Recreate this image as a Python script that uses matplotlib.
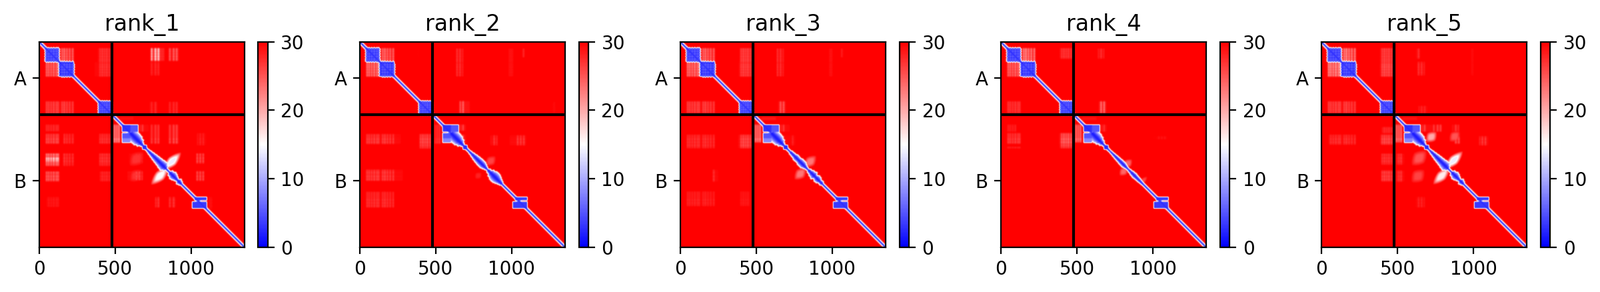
import numpy as np
import matplotlib
matplotlib.use("Agg")
import matplotlib.pyplot as plt

# ---- data (residue numbers, PAE values) ----
rank_names = ["rank_1", "rank_2", "rank_3", "rank_4", "rank_5"]
chain_names = ["A", "B"]
chain_lengths = [479, 873]
x_ticks = [0, 500, 1000]
cbar_ticks = [0, 10, 20, 30]

# confident domains shared by all ranks: row0,row1,col0,col1,value,lattice
domains = [
    (40, 130, 40, 130, 2.4, 1), (130, 228, 130, 228, 2.4, 1), (390, 479, 390, 479, 2.4, 1),
    (545, 593, 545, 600, 3, 0), (545, 593, 600, 652, 5, 0),
    (599, 635, 545, 600, 5, 0), (635, 664, 545, 600, 8, 0),
    (678, 708, 678, 708, 3, 0),
    (1020, 1045, 1022, 1105, 3.5, 0), (1051, 1097, 1007, 1105, 3.5, 0),
]
# residue columns/rows along which the pale areas are striped
stripes = [48, 62, 78, 95, 112, 124, 150, 165, 182, 200, 220, 400, 415, 430, 445, 462,
           495, 510, 525, 640, 660, 680, 740, 765, 785, 860, 885, 905, 1040, 1060, 1080]

# half-width of the diagonal band, starting at each position along the diagonal
diag_pos = [0, 535, 600, 620, 640, 655, 670, 680, 715, 725, 740, 755, 770, 785, 800, 815, 825, 835,
            845, 860, 875, 885, 895, 905, 915, 925, 935]
diag_r1 = [12, 12, 50, 55, 52, 40, 22, 12, 15, 20, 25, 30, 34, 38, 44, 48, 32, 12, 12, 30, 40, 35, 25, 17, 30, 22, 12]
diag_r2 = [12, 12, 50, 55, 52, 40, 22, 12, 12, 16, 22, 28, 32, 35, 35, 28, 19, 12, 22, 38, 48, 50, 48, 40, 30, 22, 12]
diag_r3 = [12, 12, 50, 55, 52, 40, 22, 12, 12, 19, 22, 30, 28, 35, 35, 25, 16, 12, 22, 32, 40, 25, 35, 32, 20, 22, 12]
diag_r4 = [12, 12, 50, 52, 44, 30, 16, 12, 11, 13, 16, 19, 21, 24, 25, 20, 14, 12, 16, 22, 25, 22, 20, 19, 16, 14, 12]
diag_r5 = [12, 12, 50, 55, 52, 40, 22, 12, 15, 20, 25, 30, 34, 38, 44, 48, 32, 12, 12, 30, 40, 35, 25, 17, 30, 22, 12]

# pale striped areas: row0,row1,col0,col1,value
pale_r1 = [
    (130, 228, 40, 130, 22), (40, 130, 130, 228, 22), (40, 130, 385, 479, 26), (130, 228, 365, 479, 26),
    (390, 479, 40, 228, 25), (40, 125, 737, 825, 15), (40, 125, 850, 920, 23), (130, 220, 730, 790, 27),
    (395, 479, 725, 780, 27), (395, 479, 850, 915, 27),
    (545, 589, 40, 130, 26), (604, 670, 40, 130, 24), (604, 670, 160, 230, 26), (604, 670, 395, 479, 26),
    (735, 816, 40, 135, 20), (762, 782, 42, 130, 13), (735, 816, 155, 230, 26), (735, 816, 395, 479, 26),
    (853, 918, 40, 135, 23), (853, 918, 400, 470, 27), (1020, 1087, 50, 130, 28),
    (493, 515, 532, 620, 24), (545, 662, 488, 532, 19), (545, 590, 660, 720, 24), (545, 670, 730, 790, 25),
    (545, 670, 850, 920, 24), (735, 800, 590, 680, 26), (850, 910, 580, 680, 24),
    (1020, 1090, 765, 790, 26), (1020, 1090, 850, 900, 26), (600, 680, 1040, 1100, 27),
    (735, 800, 1035, 1085, 24), (850, 915, 1035, 1085, 24), (1020, 1100, 1110, 1140, 24),
]
pale_r2 = [
    (130, 228, 40, 130, 21), (40, 130, 130, 228, 22), (40, 100, 380, 390, 28),
    (44, 227, 636, 680, 26), (44, 227, 980, 1010, 23), (44, 100, 1068, 1083, 26),
    (388, 468, 658, 724, 22), (395, 468, 1273, 1288, 26),
    (607, 673, 40, 270, 25), (607, 673, 390, 479, 24), (673, 702, 390, 479, 25),
    (841, 914, 37, 285, 25), (987, 1090, 40, 225, 26),
    (545, 670, 495, 535, 26), (545, 585, 660, 700, 23), (610, 670, 670, 700, 24),
    (615, 680, 863, 907, 26), (615, 680, 987, 1097, 25),
]
pale_r3 = [
    (130, 228, 40, 130, 21), (40, 130, 130, 228, 22), (40, 130, 390, 479, 25), (130, 228, 385, 479, 25),
    (390, 468, 40, 228, 25), (44, 227, 636, 680, 26), (44, 227, 980, 1002, 23), (44, 100, 1060, 1075, 26),
    (390, 468, 644, 695, 23), (611, 700, 40, 228, 26), (611, 700, 380, 468, 24),
    (985, 1080, 40, 228, 27), (985, 1080, 390, 460, 28), (840, 920, 210, 250, 26),
    (545, 590, 660, 720, 24), (545, 660, 490, 535, 20), (495, 515, 535, 630, 21), (615, 680, 680, 760, 27),
]
pale_r4 = [
    (130, 228, 40, 130, 22), (40, 130, 130, 228, 20), (40, 110, 385, 479, 26), (390, 468, 40, 130, 26),
    (44, 110, 640, 680, 26), (390, 468, 645, 695, 21), (600, 670, 40, 130, 25), (600, 670, 385, 479, 22),
    (670, 700, 385, 479, 24), (690, 700, 40, 130, 26), (545, 590, 40, 100, 27),
    (545, 590, 660, 700, 25), (545, 660, 490, 530, 21), (495, 515, 535, 630, 23), (620, 640, 1000, 1100, 28),
]
pale_r5 = [
    (130, 228, 40, 130, 19), (40, 130, 130, 228, 20), (40, 130, 385, 479, 25), (130, 228, 385, 479, 24),
    (390, 468, 40, 228, 25), (44, 110, 622, 650, 26), (130, 220, 630, 680, 26), (44, 220, 987, 1002, 25),
    (420, 468, 640, 700, 27), (611, 677, 50, 228, 26), (611, 677, 385, 479, 24), (560, 600, 400, 479, 26),
    (736, 809, 395, 468, 26), (846, 918, 395, 468, 25),
    (545, 660, 488, 535, 21), (736, 809, 497, 549, 26), (846, 920, 497, 549, 26),
    (545, 590, 660, 730, 23), (545, 590, 735, 790, 24), (545, 590, 863, 907, 25),
    (620, 670, 880, 910, 24), (620, 680, 1040, 1100, 25), (1020, 1090, 620, 680, 27), (495, 515, 535, 630, 23),
]

# soft lobes lying across the diagonal: row,col,half-length,half-width,value
lobes_r1 = [(786, 875, 85, 36, 14), (881, 795, 85, 38, 15), (770, 640, 65, 50, 27), (880, 636, 55, 45, 27)]
lobes_r2 = [(783, 863, 45, 35, 26), (880, 780, 30, 26, 28)]
lobes_r3 = [(787, 856, 55, 38, 23), (868, 790, 55, 38, 23)]
lobes_r4 = [(799, 837, 38, 30, 24), (853, 808, 38, 30, 24), (910, 940, 35, 18, 26)]
lobes_r5 = [(779, 872, 85, 36, 14), (882, 791, 80, 36, 16), (764, 644, 70, 50, 25), (883, 636, 60, 48, 26),
            (625, 724, 48, 38, 20), (622, 878, 48, 38, 25)]

diag_by_rank = [diag_r1, diag_r2, diag_r3, diag_r4, diag_r5]
pale_by_rank = [pale_r1, pale_r2, pale_r3, pale_r4, pale_r5]
lobes_by_rank = [lobes_r1, lobes_r2, lobes_r3, lobes_r4, lobes_r5]

# ---- build the matrices ----
N = sum(chain_lengths)
STEP = 2
pos = np.arange(0, N, STEP) + STEP / 2
R, C = np.meshgrid(pos, pos, indexing="ij")

bump = np.zeros_like(pos)
for s in stripes:
    bump = np.maximum(bump, (np.abs(pos - s) <= 4).astype(float))
row_profile = 0.7 + 0.3 * bump
col_profile = 0.15 + 0.85 * bump


def gauss(sigma):
    x = np.arange(-int(3 * sigma / STEP) - 1, int(3 * sigma / STEP) + 2) * STEP
    k = np.exp(-0.5 * (x / sigma) ** 2)
    return k / k.sum()


def blur(m, sigma):
    kernel = gauss(sigma)
    pad = len(kernel) // 2
    p = np.pad(m, pad, mode="edge")
    p = np.apply_along_axis(lambda v: np.convolve(v, kernel, mode="same"), 0, p)
    p = np.apply_along_axis(lambda v: np.convolve(v, kernel, mode="same"), 1, p)
    return p[pad:-pad, pad:-pad]


def build(hw_list, pale, lobes):
    m = np.full(R.shape, 30.0)
    for r0, r1, c0, c1, v in pale:
        rr = (pos >= r0) & (pos < r1)
        cc = (pos >= c0) & (pos < c1)
        ix = np.ix_(rr, cc)
        m[ix] = np.minimum(m[ix], np.maximum(12, 30 - 1.1 * (30 - v) * np.outer(row_profile[rr], col_profile[cc])))
    m = blur(m, 3.5)
    for r, c, a, b, v in lobes:
        u = ((C - c) - (R - r)) / np.sqrt(2)
        w = ((C - c) + (R - r)) / np.sqrt(2)
        d = np.abs(u / a) ** 1.4 + np.abs(w / b) ** 1.4
        m = np.minimum(m, np.where(d < 1, 30 - (30 - v) * np.minimum(1, 1.4 * (1 - d)), 30))
    for r0, r1, c0, c1, v, lat in domains:
        rr = (pos >= r0) & (pos < r1)
        cc = (pos >= c0) & (pos < c1)
        if lat:
            # scalloped rim: stripes poke a little past the domain edges
            rim_r = (pos >= r0 - 6) & (pos < r1 + 6)
            rim_c = (pos >= c0 - 6) & (pos < c1 + 6)
            ix = np.ix_(rim_r, cc)
            m[ix] = np.minimum(m[ix], 30 - 24 * bump[cc][None, :])
            ix = np.ix_(rr, rim_c)
            m[ix] = np.minimum(m[ix], 30 - 24 * bump[rr][:, None])
        ix = np.ix_(rr, cc)
        m[ix] = np.minimum(m[ix], v + lat * 1.8 * (bump[rr][:, None] + bump[cc][None, :]))
    s = (R + C) / 2
    d = np.abs(R - C)
    hw = np.array(hw_list, dtype=float)[np.searchsorted(diag_pos, s, side="right") - 1]
    band = np.where(d < hw, 1.5 + 13.5 * (d / hw) ** 1.6, 15 + (d - hw) * 1.6)
    m = np.minimum(m, band)
    return np.clip(blur(m, 3.2), 0, 30)


# ---- draw ----
W, H = 2401, 438
fig = plt.figure(figsize=(W / 200, H / 200), dpi=200)
ax_w, top, bot = 307.8, 62.7, 370.7
lefts = [59 + 481.1 * i for i in range(5)]
edges = np.cumsum(chain_lengths)
centres = (np.r_[0, edges[:-1]] + edges) / 2

for i, name in enumerate(rank_names):
    L = lefts[i]
    ax = fig.add_axes([L / W, 1 - bot / H, ax_w / W, (bot - top) / H])
    cax = fig.add_axes([(L + 328.4) / W, 1 - bot / H, 14.5 / W, (bot - top) / H])
    pae = build(diag_by_rank[i], pale_by_rank[i], lobes_by_rank[i])
    im = ax.imshow(pae, cmap="bwr", vmin=0, vmax=30, extent=(0, N, N, 0), aspect="auto")
    for e in edges[:-1]:
        ax.plot([0, N], [e, e], color="black")
        ax.plot([e, e], [0, N], color="black")
    ax.set_xlim(0, N)
    ax.set_ylim(N, 0)
    ax.set_xticks(x_ticks)
    ax.set_yticks(centres)
    ax.set_yticklabels(chain_names)
    ax.set_title(name)
    cb = fig.colorbar(im, cax=cax)
    cb.set_ticks(cbar_ticks)

fig.savefig("out.png", dpi=200)
